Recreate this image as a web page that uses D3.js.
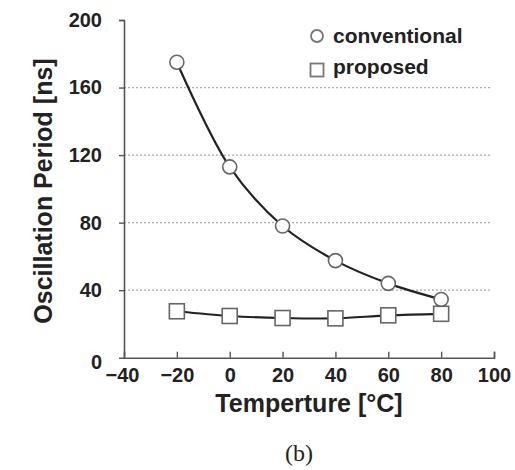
<!DOCTYPE html>
<html>
<head>
<meta charset="utf-8">
<script src="https://d3js.org/d3.v7.min.js"></script>
<style>
body { margin: 0; background: #fff; }
svg { display: block; }
.tick text { font-family: "Liberation Sans", Arial, sans-serif; font-weight: bold; }
</style>
</head>
<body>
<svg id="chart" width="515" height="470"></svg>
<script>
// data
var temps = [-20, 0, 20, 40, 60, 80];
var conventional = [175, 113, 78, 57.5, 44, 34.5];
var proposed = [27.5, 24.7, 23.5, 23.3, 25.1, 26];
var xTicks = [-40, -20, 0, 20, 40, 60, 80, 100];
var yTicks = [0, 40, 80, 120, 160, 200];
var gridVals = [40, 80, 120, 160];

var svg = d3.select("#chart");
var font = "'Liberation Sans', Arial, sans-serif";

var x = d3.scaleLinear().domain([-40, 100]).range([124, 494]);
var y = d3.scaleLinear().domain([0, 200]).range([357.7, 20]);

// dotted grid
svg.selectAll("line.grid").data(gridVals).enter().append("line")
  .attr("class", "grid")
  .attr("x1", x(-40)).attr("x2", 490)
  .attr("y1", function (d) { return y(d); })
  .attr("y2", function (d) { return y(d); })
  .attr("stroke", "#aaa")
  .attr("stroke-width", 1.2)
  .attr("stroke-dasharray", "2,2");

// axes
var yAxis = d3.axisLeft(y).tickValues(yTicks).tickSize(5).tickPadding(17);
var gy = svg.append("g").attr("transform", "translate(" + x(-40) + ",0)").call(yAxis);
gy.select(".domain").attr("stroke", "#555").attr("stroke-width", 1.6);
gy.selectAll(".tick line").attr("stroke", "#555").attr("stroke-width", 1.4);
gy.selectAll(".tick text").attr("font-size", 20).attr("fill", "#222");
gy.selectAll(".tick").filter(function (d) { return d === 0; }).select("line").remove();
gy.selectAll(".tick").filter(function (d) { return d === 0; }).select("text").attr("dy", "0.55em");

var xAxis = d3.axisBottom(x).tickValues(xTicks).tickSize(-6).tickPadding(10).tickFormat(function (d) { return d < 0 ? "\u2212" + (-d) : d; });
var gx = svg.append("g").attr("transform", "translate(0," + y(0) + ")").call(xAxis);
gx.select(".domain").attr("stroke", "#555").attr("stroke-width", 1.6);
gx.selectAll(".tick line").attr("stroke", "#555").attr("stroke-width", 1.4);
gx.selectAll(".tick text").attr("font-size", 20).attr("fill", "#222");
gx.selectAll(".tick").filter(function (d) { return d === -40; }).select("line").remove();
gx.selectAll(".tick").filter(function (d) { return d === -40; }).select("text").attr("dx", "-0.1em");

// smooth lines
var line = d3.line()
  .x(function (d) { return x(d[0]); })
  .y(function (d) { return y(d[1]); })
  .curve(d3.curveCatmullRom.alpha(0.5));

var convPts = temps.map(function (t, i) { return [t, conventional[i]]; });
var propPts = temps.map(function (t, i) { return [t, proposed[i]]; });

svg.append("path").attr("d", line(convPts))
  .attr("fill", "none").attr("stroke", "#222").attr("stroke-width", 2.2);
svg.append("path").attr("d", line(propPts))
  .attr("fill", "none").attr("stroke", "#222").attr("stroke-width", 2.2);

// markers
svg.selectAll("circle.conv").data(convPts).enter().append("circle")
  .attr("class", "conv")
  .attr("cx", function (d) { return x(d[0]); })
  .attr("cy", function (d) { return y(d[1]); })
  .attr("r", 7)
  .attr("fill", "#fff").attr("stroke", "#666").attr("stroke-width", 1.6);

svg.selectAll("rect.prop").data(propPts).enter().append("rect")
  .attr("class", "prop")
  .attr("x", function (d) { return x(d[0]) - 7.5; })
  .attr("y", function (d) { return y(d[1]) - 7.5; })
  .attr("width", 15).attr("height", 15)
  .attr("fill", "#fff").attr("stroke", "#666").attr("stroke-width", 1.6);

// legend
svg.append("circle").attr("cx", 317).attr("cy", 36).attr("r", 6)
  .attr("fill", "#fff").attr("stroke", "#777").attr("stroke-width", 1.8);
svg.append("text").attr("x", 333).attr("y", 43).text("conventional")
  .attr("font-family", font).attr("font-weight", "bold").attr("font-size", 21).attr("fill", "#222");
svg.append("rect").attr("x", 310.5).attr("y", 63.5).attr("width", 13).attr("height", 13)
  .attr("fill", "#fff").attr("stroke", "#777").attr("stroke-width", 1.8);
svg.append("text").attr("x", 333).attr("y", 74).text("proposed")
  .attr("font-family", font).attr("font-weight", "bold").attr("font-size", 21).attr("fill", "#222");

// axis titles
svg.append("text")
  .attr("transform", "translate(52,191) rotate(-90)")
  .attr("text-anchor", "middle")
  .attr("font-family", font).attr("font-weight", "bold").attr("font-size", 25).attr("fill", "#222")
  .text("Oscillation Period [ns]");

svg.append("text")
  .attr("x", 309).attr("y", 412)
  .attr("text-anchor", "middle")
  .attr("font-family", font).attr("font-weight", "bold").attr("font-size", 25).attr("fill", "#222")
  .text("Temperture [\u00B0C]");

svg.append("text")
  .attr("x", 299).attr("y", 461)
  .attr("text-anchor", "middle")
  .attr("font-family", "'Liberation Serif', 'DejaVu Serif', serif").attr("font-size", 24).attr("fill", "#222")
  .text("(b)");
</script>
</body>
</html>
